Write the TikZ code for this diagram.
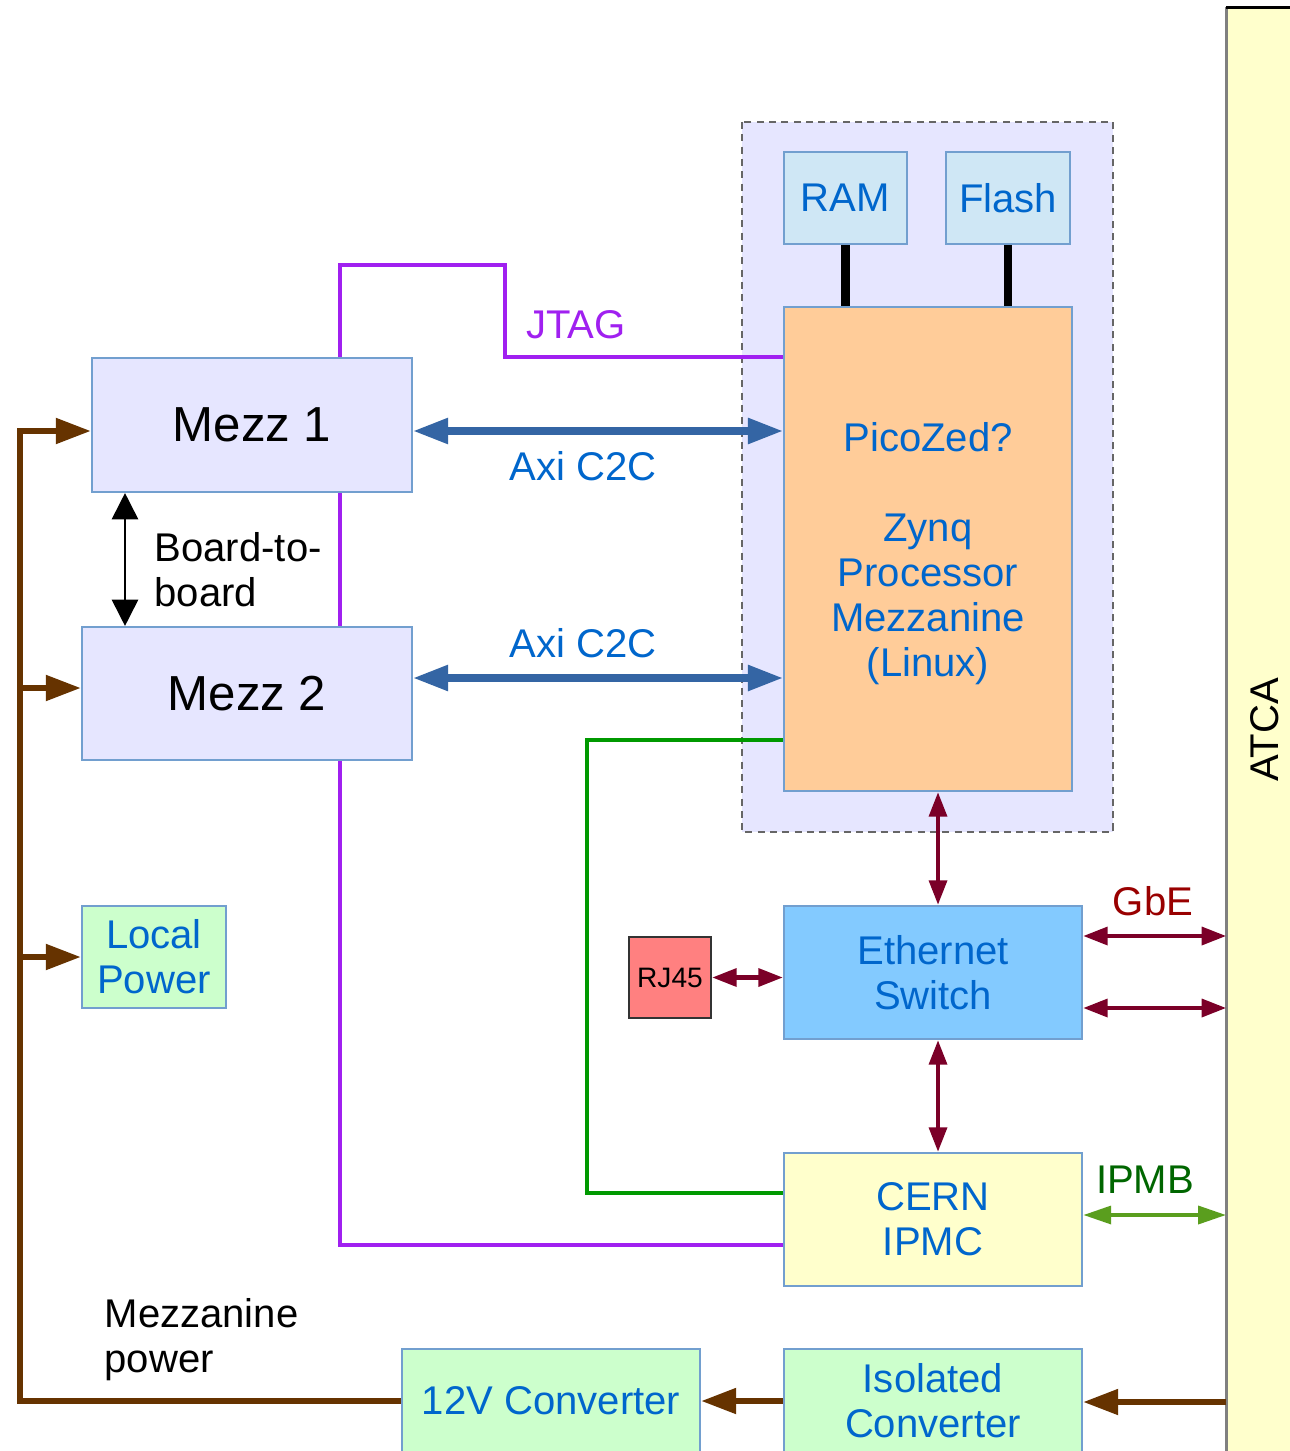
\documentclass[tikz,border=0pt]{standalone}
\usepackage{fontspec}
\setmainfont{Liberation Sans}
\usepackage{graphicx}
\usetikzlibrary{arrows.meta}

\definecolor{boxline}{HTML}{729FCF}
\definecolor{txtblue}{HTML}{0066CC}
\definecolor{lavender}{HTML}{E6E6FF}
\definecolor{memfill}{HTML}{CFE7F5}
\definecolor{picofill}{HTML}{FFCC99}
\definecolor{ethfill}{HTML}{83CAFF}
\definecolor{paleyellow}{HTML}{FFFFCC}
\definecolor{palegreen}{HTML}{CCFFCC}
\definecolor{rjfill}{HTML}{FF8080}
\definecolor{jtagpurple}{HTML}{A020F0}
\definecolor{gpiogreen}{HTML}{009900}
\definecolor{axiblue}{HTML}{3465A4}
\definecolor{ethred}{HTML}{7B0028}
\definecolor{gbered}{HTML}{990000}
\definecolor{ipmbgreen}{HTML}{5A9E1E}
\definecolor{ipmbtext}{HTML}{006600}
\definecolor{pwrbrown}{HTML}{663300}

\tikzset{
    blk/.style={draw=boxline, line width=0.6pt, inner sep=0pt, align=center,
        text=txtblue, font=\fontsize{11.4}{12.8}\selectfont},
    lbl/.style={inner sep=0pt, align=center, font=\fontsize{11.4}{12.8}\selectfont},
    pwr/.style={draw=pwrbrown, line width=1.8pt, -{Triangle[length=10pt, width=7pt]}},
    axi/.style={draw=axiblue, line width=2pt,
        {Triangle[length=10pt, width=7pt]}-{Triangle[length=10pt, width=7pt]}},
    eth/.style={draw=ethred, line width=1.3pt,
        {Triangle[length=7pt, width=5pt]}-{Triangle[length=7pt, width=5pt]}},
    ipmb/.style={draw=ipmbgreen, line width=1.3pt,
        {Triangle[length=8pt, width=5pt]}-{Triangle[length=8pt, width=5pt]}}
}

\begin{document}
\begin{tikzpicture}[x=0.1mm, y=-0.1mm]
    % 1. Picture area
    \clip (0,0) rectangle (1290,1451);
    \fill[white] (0,0) rectangle (1290,1451);

    % 2. ATCA backplane and Zynq group
    \node[fill=paleyellow, inner sep=0pt, minimum width=7.6mm, minimum height=144.4mm,
        font=\fontsize{11.4}{12.8}\selectfont] (atca) at (1265,730) {\rotatebox{90}{ATCA}};
    \draw[gray, line width=0.8pt] (atca.north west) -- (atca.south west);
    \draw[black, line width=0.8pt] (atca.north west) -- (atca.north east);
    \draw[fill=lavender, draw=gray!80!black, dash pattern=on 2pt off 1.5pt, line width=0.6pt]
        (742,122) rectangle (1113,832);

    % 3. Blocks
    \node[blk, fill=lavender, text=black, font=\fontsize{14}{16}\selectfont,
        minimum width=32mm, minimum height=13.4mm] (mezzA) at (252,425) {Mezz 1};
    \node[blk, fill=lavender, text=black, font=\fontsize{14}{16}\selectfont,
        minimum width=33mm, minimum height=13.3mm] (mezzB) at (247,693.5) {Mezz 2};
    \node[blk, fill=palegreen, minimum width=14.4mm, minimum height=10.2mm] (power) at (154,957) {Local\\Power};
    \node[blk, fill=memfill, minimum width=12.3mm, minimum height=9.2mm] (ram) at (845.5,198) {RAM};
    \node[blk, fill=memfill, minimum width=12.4mm, minimum height=9.2mm] (flash) at (1008,198) {Flash};
    \node[blk, fill=picofill, minimum width=28.8mm, minimum height=48.4mm] (pico) at (928,549) {};
    \node[lbl, text=txtblue] (picotxt) at (928,554)
        {PicoZed?\\[12.8pt]Zynq\\Processor\\Mezzanine\\(Linux)};
    \node[blk, fill=ethfill, minimum width=29.8mm, minimum height=13.3mm] (eth) at (933,972.5) {Ethernet\\Switch};
    \node[blk, fill=paleyellow, minimum width=29.8mm, minimum height=13.3mm] (ipmc) at (933,1219.5) {CERN\\IPMC};
    \node[blk, fill=rjfill, draw=black!80, text=black, font=\fontsize{8}{9}\selectfont,
        minimum width=8.2mm, minimum height=8.1mm] (rj) at (670,977.5) {RJ45};
    \node[blk, fill=palegreen, minimum width=29.8mm, minimum height=10.4mm] (conv) at (551,1401) {12V Converter};
    \node[blk, fill=palegreen, minimum width=29.8mm, minimum height=10.4mm] (iso) at (933,1401) {Isolated\\Converter};

    % 4. Memory links
    \draw[black, line width=2.3pt] (ram.south) -- (ram.south |- pico.north);
    \draw[black, line width=2.3pt] (flash.south) -- (flash.south |- pico.north);

    % 5. JTAG chain and GPIO
    \draw[jtagpurple, line width=0.9pt] (340,0 |- mezzA.north) |- (505,265) |- (pico.west |- 0,357);
    \draw[jtagpurple, line width=0.9pt] (340,0 |- mezzA.south) -- (340,0 |- mezzB.north);
    \draw[jtagpurple, line width=0.9pt] (340,0 |- mezzB.south) |- (ipmc.west |- 0,1245);
    \draw[gpiogreen, line width=0.9pt] (pico.west |- 0,740) -| (587,1193) -- (ipmc.west |- 0,1193);
    \node[lbl, text=jtagpurple] (jtag) at (576,325) {JTAG};

    % 6. Axi C2C links
    \draw[axi] (mezzA.east |- 0,431) -- (pico.west |- 0,431);
    \draw[axi] (mezzB.east |- 0,678) -- (pico.west |- 0,678);
    \node[lbl, text=txtblue] (axiA) at (583,466) {Axi C2C};
    \node[lbl, text=txtblue] (axiB) at (583,643) {Axi C2C};

    % 7. Board-to-board
    \draw[black, line width=0.5pt, {Triangle[length=7.5pt, width=7.5pt]}-{Triangle[length=7.5pt, width=7.5pt]}]
        (125,0 |- mezzA.south) -- (125,0 |- mezzB.north);
    \node[lbl, align=left, anchor=west] (btb) at (154,569.5) {Board-to-\\board};

    % 8. Ethernet
    \draw[eth] (938,0 |- pico.south) -- (938,0 |- eth.north);
    \draw[eth] (938,0 |- eth.south) -- (938,0 |- ipmc.north);
    \draw[eth] (rj.east) -- (eth.west |- rj.east);
    \draw[eth] (eth.east |- 0,936) -- (atca.west |- 0,936);
    \draw[eth] (eth.east |- 0,1008) -- (atca.west |- 0,1008);
    \node[lbl, text=gbered] (gbe) at (1153,901) {GbE};

    % 9. IPMB
    \draw[ipmb] (ipmc.east |- 0,1215) -- (atca.west |- 0,1215);
    \node[lbl, text=ipmbtext] (ipmbl) at (1145,1180) {IPMB};

    % 10. Power distribution
    \draw[pwr] (atca.west |- 0,1402) -- (iso.east |- 0,1402);
    \draw[pwr] (iso.west) -- (conv.east);
    \draw[pwr] (conv.west) -| (20,431) -- (mezzA.west |- 0,431);
    \draw[pwr] (20,688) -- (mezzB.west |- 0,688);
    \draw[pwr] (20,957) -- (power.west);
    \node[lbl, align=left, anchor=west] (mezzpwr) at (104,1339.5) {Mezzanine\\power};
\end{tikzpicture}
\end{document}
